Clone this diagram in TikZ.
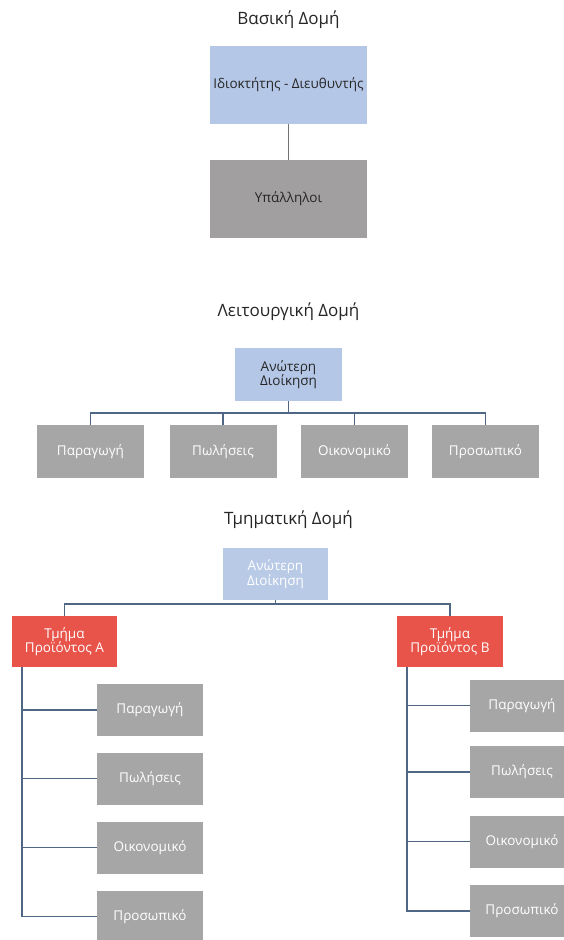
\documentclass[tikz,border=0pt]{standalone}
\usepackage{fontspec}
\setmainfont{Open Sans}
\begin{document}
\begin{tikzpicture}[x=1pt,y=-1pt,
  heading/.style={font=\fontsize{17}{20}\selectfont, text=black!85},
  box/.style={inner sep=0pt, align=center, font=\fontsize{13.5}{14.5}\selectfont},
  bluebox/.style={box, fill=boxblue},
  paleblue/.style={box, fill=boxpale, text=white},
  graybox/.style={box, fill=boxgray, text=white},
  redbox/.style={box, fill=boxred, text=white},
  link/.style={draw=linkblue, line width=1.4pt}]
\definecolor{boxblue}{HTML}{B4C7E7}
\definecolor{boxpale}{HTML}{B9CAE6}
\definecolor{boxgray}{HTML}{A6A6A6}
\definecolor{boxred}{HTML}{E8534A}
\definecolor{linkblue}{HTML}{4F6785}
\definecolor{darkgray}{HTML}{A19F9F}
\useasboundingbox (0,0) rectangle (564,940);
\clip (0,0) rectangle (564,940);
\fill[white] (0,0) rectangle (564,940);

% --- basic structure ---
\node[heading] (t1) at (288.5,20) {Βασική Δομή};
\node[bluebox, text=black!85, minimum width=157pt, minimum height=78pt] (owner) at (288.5,85) {Ιδιοκτήτης - Διευθυντής};
\node[box, fill=darkgray, text=black!85, minimum width=157pt, minimum height=78pt] (staff) at (288.5,199) {Υπάλληλοι};
\draw[link, draw=black!55] (owner.south) -- (staff.north);

% --- functional structure ---
\node[heading] (t2) at (288.5,312) {Λειτουργική Δομή};
\node[bluebox, text=black!85, minimum width=107pt, minimum height=53pt] (top2) at (288.5,374.5) {Ανώτερη\\Διοίκηση};
\foreach \n/\x/\lbl in {f1/90.5/Παραγωγή, f2/223/Πωλήσεις, f3/354.5/Οικονομικό, f4/485.5/Προσωπικό}
  \node[graybox, minimum width=107pt, minimum height=53pt] (\n) at (\x,451.5) {\lbl};
\coordinate (bus2) at (288.5,413);
\draw[link] (top2.south) -- (bus2);
\foreach \n in {f1,f2,f3,f4}
  \draw[link] (bus2) -| (\n.north);

% --- divisional structure ---
\node[heading] (t3) at (288.5,520) {Τμηματική Δομή};
\node[paleblue, minimum width=105pt, minimum height=52pt] (top3) at (275.5,574) {Ανώτερη\\Διοίκηση};
\node[redbox, minimum width=105pt, minimum height=51pt] (pa) at (64.5,641.5) {Τμήμα\\Προϊόντος Α};
\node[redbox, minimum width=106pt, minimum height=51pt] (pb) at (450,641.5) {Τμήμα\\Προϊόντος Β};
\coordinate (bus3) at (275.5,604);
\draw[link] (top3.south) -- (bus3);
\draw[link] (bus3) -| (pa.north);
\draw[link] (bus3) -| (pb.north);

\foreach \n/\y/\lbl in {a1/710/Παραγωγή, a2/778.5/Πωλήσεις, a3/847.5/Οικονομικό, a4/916.5/Προσωπικό}{
  \node[graybox, minimum width=106pt, minimum height=52pt] (\n) at (150,\y) {\lbl};
  \draw[link] ([xshift=10pt]pa.south west) |- (\n.west);
}
\foreach \n/\y/\lbl in {b1/705.5/Παραγωγή, b2/772/Πωλήσεις, b3/841.5/Οικονομικό, b4/911/Προσωπικό}{
  \node[graybox, minimum width=104pt, minimum height=52pt] (\n) at (522,\y) {\lbl};
  \draw[link] ([xshift=10pt]pb.south west) |- (\n.west);
}
\end{tikzpicture}
\end{document}
